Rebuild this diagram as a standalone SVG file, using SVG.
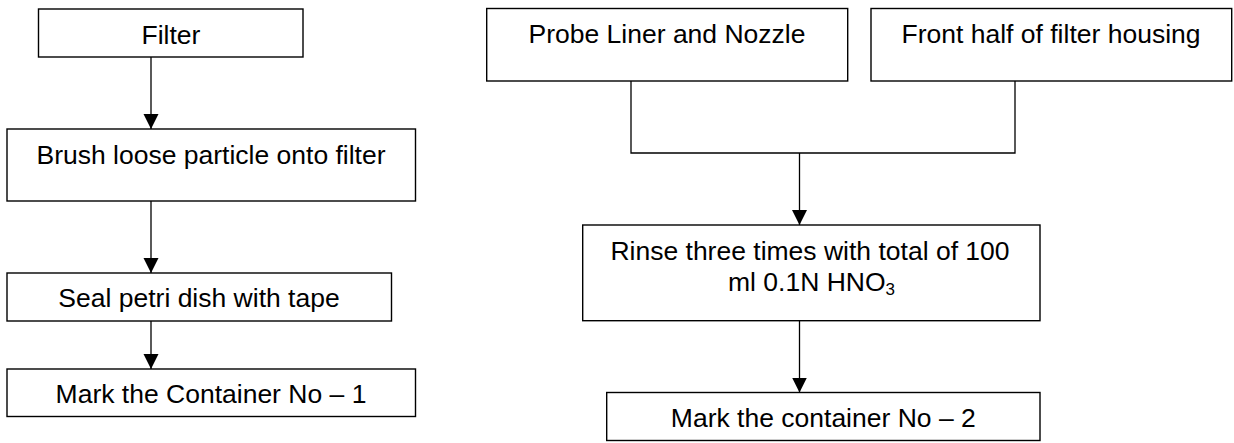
<svg xmlns="http://www.w3.org/2000/svg" width="1234" height="443" viewBox="0 0 1234 443">
<defs>
<style>
.box{fill:#fff;stroke:#000;stroke-width:1.4}
.t{font-family:"Liberation Sans",Arial,sans-serif;font-size:26.5px;fill:#000;text-anchor:middle}
.ln{fill:none;stroke:#000;stroke-width:1.3}
</style>
<marker id="ah" markerWidth="15" markerHeight="16" refX="15" refY="7.5" orient="auto" markerUnits="userSpaceOnUse">
<path d="M0,0 L15,7.5 L0,15 Z" fill="#000"/>
</marker>
</defs>
<rect width="1234" height="443" fill="#fff"/>
<g id="connectors">
<line class="ln" x1="151" y1="57" x2="151" y2="129" marker-end="url(#ah)"/>
<line class="ln" x1="151" y1="201" x2="151" y2="273" marker-end="url(#ah)"/>
<line class="ln" x1="151" y1="321" x2="151" y2="369" marker-end="url(#ah)"/>
<polyline class="ln" points="631,81 631,153 1015,153 1015,81"/>
<line class="ln" x1="799.5" y1="153" x2="799.5" y2="225" marker-end="url(#ah)"/>
<line class="ln" x1="799.5" y1="321" x2="799.5" y2="392.5" marker-end="url(#ah)"/>
</g>
<g id="filter">
<rect class="box" x="38.5" y="9" width="264.5" height="48"/>
<text class="t" x="171" y="44">Filter</text>
</g>
<g id="brush">
<rect class="box" x="7" y="129" width="408.5" height="72"/>
<text class="t" x="211" y="163.5">Brush loose particle onto filter</text>
</g>
<g id="seal">
<rect class="box" x="7" y="273" width="384.5" height="48"/>
<text class="t" x="199" y="307">Seal petri dish with tape</text>
</g>
<g id="mark1">
<rect class="box" x="7" y="369" width="408.5" height="47.5"/>
<text class="t" x="211" y="402.5">Mark the Container No – 1</text>
</g>
<g id="probe">
<rect class="box" x="486.7" y="8.5" width="361" height="72.5"/>
<text class="t" x="667" y="43.3">Probe Liner and Nozzle</text>
</g>
<g id="front">
<rect class="box" x="871" y="8.5" width="360.7" height="72.5"/>
<text class="t" x="1051" y="43.3">Front half of filter housing</text>
</g>
<g id="rinse">
<rect class="box" x="582.7" y="225" width="457.3" height="95.7"/>
<text class="t" x="810" y="260">Rinse three times with total of 100</text>
<text class="t" x="811.5" y="291">ml 0.1N HNO<tspan font-size="17" dy="3.5">3</tspan></text>
</g>
<g id="mark2">
<rect class="box" x="606.7" y="392.5" width="433.3" height="48"/>
<text class="t" x="823.3" y="426.5">Mark the container No – 2</text>
</g>
</svg>
